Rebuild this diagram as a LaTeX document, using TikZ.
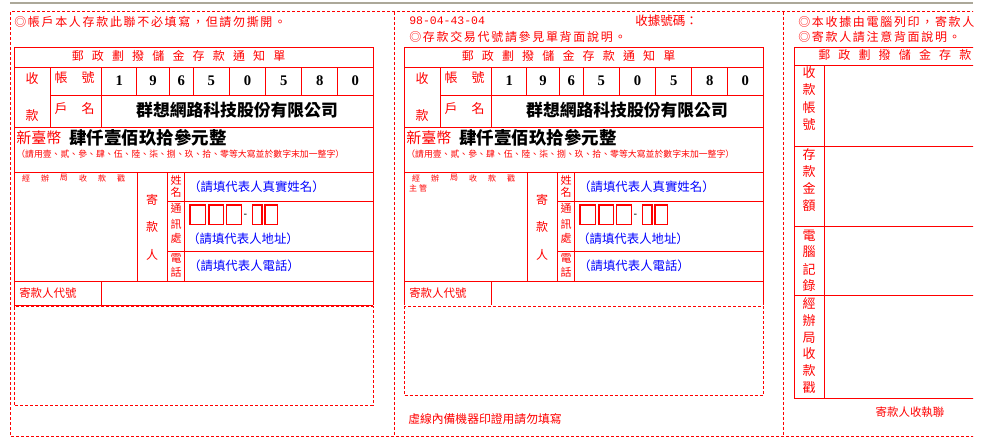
\documentclass[tikz,border=0pt]{standalone}
\usepackage{fontspec}
\newfontfamily\cjk{Noto Sans CJK TC}
\newfontfamily\numfont{Liberation Serif}
\newfontfamily\codefont{Liberation Mono}
\newfontfamily\latinfont{Liberation Sans}
\definecolor{rulegray}{HTML}{ACA899}

\begin{document}
\begin{tikzpicture}[x=0.75pt, y=-0.75pt,
    rl/.style={red, line width=0.75pt},
    dl/.style={red, line width=0.75pt, dash pattern=on 2.25pt off 1.5pt},
    lab/.style={inner sep=0pt, text=red, font=\cjk\fontsize{9.75}{9.75}\selectfont},
    tag/.style={inner sep=0pt, text=red, font=\cjk\fontsize{8.25}{8.25}\selectfont},
    mini/.style={inner sep=0pt, text=red, font=\cjk\fontsize{6}{6}\selectfont},
    num/.style={inner sep=0pt, font=\numfont\bfseries\fontsize{11}{11}\selectfont},
    hint/.style={inner sep=0pt, anchor=west, text=blue, font=\cjk\fontsize{9.3}{9.3}\selectfont},
    note/.style={inner sep=0pt, anchor=west, text=red, font=\cjk\addfontfeatures{LetterSpace=14}\fontsize{9}{9}\selectfont},
    head/.style={inner sep=0pt, anchor=west, text=red, font=\cjk\addfontfeatures{LetterSpace=68}\fontsize{9}{9}\selectfont},
]
\useasboundingbox (0,0) rectangle (1000,444);

\begin{scope}
\clip (0,0) rectangle (973,444);

% top rule and cut lines
\draw[rulegray, line width=1.5pt] (10,3) -- (973,3);
\draw[dl] (1000,11.7) -| (10.7,436.7) -- (1000,436.7);
\draw[dl] (394.5,11.7) -- (394.5,436.7);
\draw[dl] (783.3,11.7) -- (783.3,436.7);

% two deposit slips
\foreach \s in {0,390}
{
\begin{scope}[shift={(\s,0)}]
    \draw[rl] (14,47.7) rectangle (373,281.3);
    \draw[rl] (14,67.3)--(373,67.3) (50,95.7)--(373,95.7) (14,127.3)--(373,127.3) (14,172.3)--(373,172.3);
    \draw[rl] (50,67.3)--(50,127.3) (101.7,67.3)--(101.7,127.3);
    \foreach \x in {136.7,169.3,193.3,229.3,265.7,301.7,337.7}
    {
        \draw[rl] (\x,67.3)--(\x,95.7);
    }
    \draw[rl] (137.7,172.3)--(137.7,281.3) (167.3,172.3)--(167.3,281.3) (184.3,172.3)--(184.3,281.3);
    \draw[rl] (167.3,201)--(373,201) (167.3,251.7)--(373,251.7);
    \draw[rl] (14,281.3)--(14,305) (101.7,281.3)--(101.7,305) (373,281.3)--(373,305);

    \node[head] (title\s) at (71.5,56) {郵政劃撥儲金存款通知單};
    \node[lab] (shou\s) at (32,79) {收};
    \node[lab] (kuan\s) at (32,116) {款};
    \node[lab] (zhang\s) at (61,77.5) {帳};
    \node[lab] (hao\s) at (88,77.5) {號};
    \node[lab] (hu\s) at (61,108.5) {戶};
    \node[lab] (ming\s) at (88,108.5) {名};
    \foreach \x/\d [count=\i] in {119.2/1,153/9,181.3/6,211.3/5,247.5/0,283.7/5,319.7/8,355.3/0}
    {
        \node[num] (d\i-\s) at (\x,80.5) {\d};
    }
    \node[inner sep=0pt, font=\cjk\bfseries\fontsize{12.6}{12.6}\selectfont] (payee\s) at (237,110.5) {群想網路科技股份有限公司};
    \node[lab, anchor=west, font=\cjk\fontsize{11.25}{11.25}\selectfont] (ntd\s) at (16,137.5) {新臺幣};
    \node[inner sep=0pt, anchor=west, font=\cjk\bfseries\fontsize{13.1}{13.1}\selectfont] (amount\s) at (69,137.5) {肆仟壹佰玖拾參元整};
    \node[lab, anchor=west, font=\cjk\fontsize{6.65}{6.65}\selectfont] (rule\s) at (16,154.5) {（請用壹、貳、參、肆、伍、陸、柒、捌、玖、拾、零等大寫並於數字末加一整字）};

    \foreach \c [count=\i] in {經,辦,局,收,款,戳}
    {
        \node[mini] (stamp\i-\s) at (7+19*\i,178) {\c};
    }
    \foreach \c/\y [count=\i] in {寄/200,款/227,人/255}
    {
        \node[lab, font=\cjk\fontsize{9}{9}\selectfont] (sender\i-\s) at (152,\y) {\c};
    }
    \foreach \c/\y [count=\i] in {姓/180,名/192,通/208.5,訊/224,處/238,電/258,話/272}
    {
        \node[tag] (field\i-\s) at (176,\y) {\c};
    }
    \node[hint] (name\s) at (188,187) {（請填代表人真實姓名）};
    \foreach \a/\b in {190/205.7,209/223.3,226.7/241.7,252.5/262,265/277.5}
    {
        \draw[rl, line width=1.1pt] (\a,205) rectangle (\b,224.3);
    }
    \node[inner sep=0pt, font=\latinfont\fontsize{8}{8}\selectfont] (dash\s) at (245.5,215.5) {-};
    \node[hint] (addr\s) at (187,239) {（請填代表人地址）};
    \node[hint] (tel\s) at (188,266) {（請填代表人電話）};
    \node[lab, anchor=west, font=\cjk\fontsize{8.6}{8.6}\selectfont] (code\s) at (19,293) {寄款人代號};
\end{scope}
}

% left slip
\node[note] (keep) at (14,22.3) {◎帳戶本人存款此聯不必填寫，但請勿撕開。};
\draw[rl] (14,305) -- (373,305);
\draw[dl] (14,306.7) rectangle (373,405.3);

% middle slip
\node[inner sep=0pt, anchor=west, text=red, font=\codefont\fontsize{8.6}{8.6}\selectfont] (serial) at (409,20.5) {98-04-43-04};
\node[lab, anchor=west, font=\cjk\fontsize{9.4}{9.4}\selectfont] (receipt) at (635,20.5) {收據號碼：};
\node[note] (trade) at (409,37) {◎存款交易代號請參見單背面說明。};
\node[mini] (boss1) at (413,188) {主};
\node[mini] (boss2) at (423,188) {管};
\draw[dl] (404,306) rectangle (763,395.3);
\node[lab, anchor=west, font=\cjk\fontsize{8.85}{8.85}\selectfont] (machine) at (408,419.5) {虛線內備機器印證用請勿填寫};

% receipt stub
\node[note] (printed) at (798,22) {◎本收據由電腦列印，寄款人請勿填寫。};
\node[note] (mind) at (798,37) {◎寄款人請注意背面說明。};
\draw[rl] (1000,47.7) -| (794.3,398.3) -- (1000,398.3);
\foreach \y in {65.3,146,226.3,295.3}
{
    \draw[rl] (794.3,\y) -- (1000,\y);
}
\draw[rl] (824.3,65.3) -- (824.3,398.3);
\node[head] (stubtitle) at (818,55) {郵政劃撥儲金存款通知單};
\foreach \c/\y [count=\i] in {收/73,款/90,帳/107.5,號/125,存/155,款/171.7,金/188,額/205.5,電/236,腦/252,記/269,錄/286,經/303,辦/320.5,局/337.5,收/354,款/371,戳/388}
{
    \node[lab] (stub\i) at (809,\y) {\c};
}
\node[lab, font=\cjk\fontsize{8.6}{8.6}\selectfont] (keeper) at (910,412) {寄款人收執聯};
\end{scope}

\end{tikzpicture}
\end{document}
